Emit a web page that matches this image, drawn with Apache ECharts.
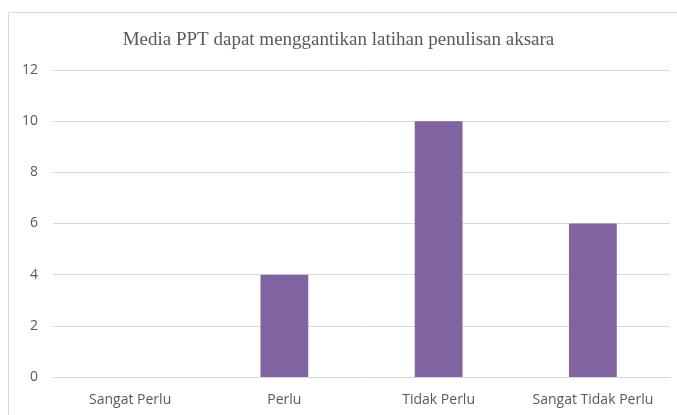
<!DOCTYPE html>
<html><head><meta charset="utf-8">
<script src="https://cdn.jsdelivr.net/npm/echarts@6/dist/echarts.min.js"></script>
<style>html,body{margin:0;padding:0;background:#fff}#c{width:677px;height:415px}</style>
</head><body><div id="c"></div>
<script>
const title = "Media PPT dapat menggantikan latihan penulisan aksara";
const categories = ["Sangat Perlu", "Perlu", "Tidak Perlu", "Sangat Tidak Perlu"];
const values = [0, 4, 10, 6];
const yTicks = [0, 2, 4, 6, 8, 10, 12];

const chart = echarts.init(document.getElementById('c'), null, {renderer: 'canvas'});
chart.setOption({
  animation: false,
  backgroundColor: '#fff',
  graphic: [{
    type: 'rect', shape: {x: 8.5, y: 12.5, width: 700, height: 500},
    style: {fill: 'none', stroke: '#d9d9d9', lineWidth: 1}, silent: true
  }],
  title: {
    text: title, left: 'center', top: 26,
    textStyle: {fontFamily: 'Liberation Serif', fontSize: 19, fontWeight: 'normal', color: '#595959'}
  },
  grid: {left: 53, right: 7, top: 70, bottom: 38},
  xAxis: {
    type: 'category', data: categories,
    axisLine: {show: true, lineStyle: {color: '#d9d9d9'}},
    axisTick: {show: false},
    axisLabel: {interval: 0, fontFamily: 'Open Sans', fontSize: 14, color: '#595959', margin: 16}
  },
  yAxis: {
    type: 'value', min: yTicks[0], max: yTicks[yTicks.length - 1], interval: 2,
    axisLine: {show: false}, axisTick: {show: false},
    splitLine: {lineStyle: {color: '#d9d9d9'}},
    axisLabel: {fontFamily: 'Open Sans', fontSize: 14, color: '#595959', margin: 15}
  },
  series: [{
    type: 'bar', data: values, barWidth: '31%',
    itemStyle: {color: '#8064a2'}
  }]
});
</script></body></html>
